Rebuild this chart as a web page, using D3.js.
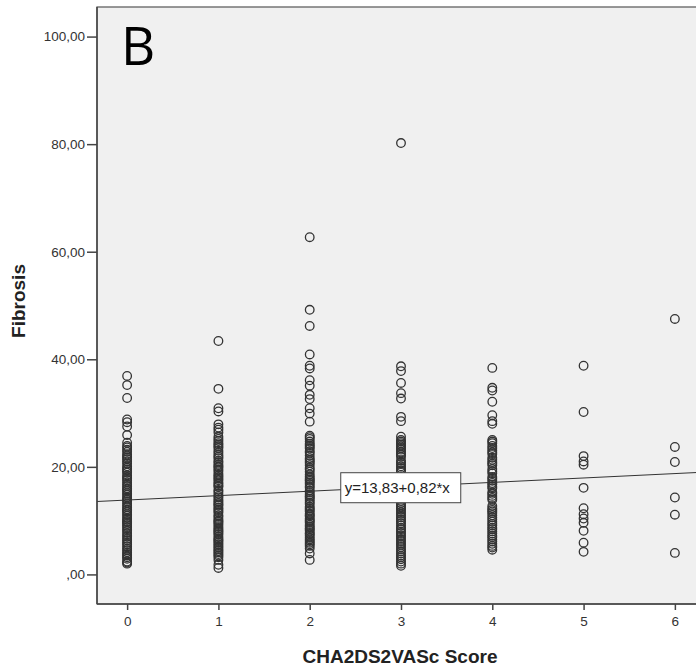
<!DOCTYPE html>
<html>
<head>
<meta charset="utf-8">
<script src="https://cdn.jsdelivr.net/npm/d3@7"></script>
<style>
  html, body { margin: 0; padding: 0; background: #fff; }
  svg { display: block; }
</style>
</head>
<body>
<svg id="chart" width="696" height="670"></svg>
<script>
// ---- Data ----
const scores = [0, 1, 2, 3, 4, 5, 6];
const fibrosisScore0 = [36.9, 35.2, 32.8, 28.8, 28.3, 27.5, 25.9, 24.5, 23.9, 23.6, 23.2, 22.8, 22.3, 22.0, 21.7, 21.4, 21.0, 20.6, 20.1, 19.8, 19.5, 19.2, 18.9, 18.4, 18.1, 17.8, 17.5, 17.1, 16.7, 16.4, 16.0, 15.8, 15.5, 15.1, 14.8, 14.4, 14.1, 13.9, 13.6, 13.2, 12.8, 12.5, 12.1, 11.9, 11.6, 11.2, 10.9, 10.5, 10.2, 9.9, 9.7, 9.4, 9.1, 8.8, 8.4, 8.1, 7.7, 7.3, 7.0, 6.6, 6.3, 5.9, 5.6, 5.2, 4.8, 4.5, 4.1, 3.8, 3.5, 3.2, 2.9, 2.4, 2.2, 2.0];
const fibrosisScore1 = [43.4, 34.5, 30.9, 30.3, 27.9, 27.3, 26.9, 26.4, 25.6, 25.2, 24.8, 24.4, 24.1, 23.8, 23.5, 23.0, 22.6, 22.2, 21.9, 21.6, 21.1, 20.8, 20.4, 20.1, 19.9, 19.5, 19.2, 18.7, 18.4, 18.1, 17.8, 17.5, 17.1, 16.8, 16.5, 16.3, 15.7, 15.4, 15.0, 14.6, 14.3, 13.9, 13.6, 13.3, 13.0, 12.8, 12.4, 12.1, 11.8, 11.5, 11.0, 10.7, 10.3, 10.0, 9.8, 9.5, 9.2, 8.8, 8.5, 8.2, 8.0, 7.7, 7.4, 7.0, 6.7, 6.4, 6.2, 5.9, 5.6, 5.3, 5.0, 4.7, 4.4, 4.1, 3.8, 3.5, 3.2, 2.7, 1.8, 1.2];
const fibrosisScore2 = [62.7, 49.2, 46.2, 40.9, 38.8, 38.3, 36.1, 35.1, 33.4, 32.6, 30.9, 29.9, 28.4, 25.8, 25.5, 25.2, 24.7, 24.3, 24.0, 23.7, 23.4, 22.9, 22.6, 22.1, 21.6, 21.3, 21.0, 20.7, 20.3, 19.8, 19.5, 19.1, 18.6, 18.2, 17.9, 17.6, 17.4, 17.1, 16.8, 16.4, 16.1, 15.6, 15.3, 14.9, 14.6, 14.4, 14.1, 13.8, 13.4, 13.1, 12.6, 12.3, 12.0, 11.7, 11.3, 11.0, 10.8, 10.4, 10.1, 9.9, 9.6, 9.2, 8.9, 8.6, 8.4, 8.1, 7.7, 7.5, 7.2, 6.8, 6.5, 6.2, 5.9, 5.6, 5.3, 4.8, 3.9, 2.7];
const fibrosisScore3 = [80.2, 38.7, 37.8, 35.6, 33.7, 32.7, 29.3, 28.5, 25.6, 25.0, 24.7, 24.4, 24.1, 23.8, 23.5, 23.2, 22.8, 22.5, 22.2, 21.9, 21.2, 20.8, 20.5, 20.1, 19.8, 19.4, 19.1, 17.6, 15.8, 14.2, 13.3, 12.9, 12.6, 12.3, 12.0, 11.6, 11.3, 10.9, 10.6, 10.2, 9.9, 9.5, 9.1, 8.7, 8.4, 8.0, 7.7, 7.3, 7.0, 6.6, 6.2, 5.8, 5.5, 5.1, 4.7, 4.3, 3.9, 3.5, 3.2, 2.8, 2.4, 2.0, 1.6];
const fibrosisScore4 = [38.4, 34.7, 34.2, 32.1, 29.6, 28.5, 28.0, 25.0, 24.7, 24.4, 23.9, 23.5, 23.1, 22.7, 22.4, 21.7, 21.3, 20.9, 20.6, 20.3, 19.6, 19.2, 18.8, 18.1, 17.8, 17.4, 17.0, 16.7, 16.3, 16.0, 15.3, 15.0, 14.6, 14.2, 13.9, 12.7, 12.3, 12.0, 11.7, 11.4, 11.0, 10.6, 10.2, 9.8, 9.4, 9.1, 8.7, 8.4, 8.0, 7.6, 7.2, 6.9, 6.5, 6.1, 5.7, 5.3, 5.0, 4.6];
const fibrosisScore5 = [38.8, 30.2, 22.0, 21.0, 20.4, 16.1, 12.3, 11.2, 10.4, 9.6, 8.1, 5.9, 4.2];
const fibrosisScore6 = [47.5, 23.7, 20.9, 14.3, 11.1, 4.0];
const fibrosisByScore = [fibrosisScore0, fibrosisScore1, fibrosisScore2, fibrosisScore3, fibrosisScore4, fibrosisScore5, fibrosisScore6];
const yTicks = [0, 20, 40, 60, 80, 100];
const regIntercept = 13.83;
const regSlope = 0.82;
const regLabel = "y=13,83+0,82*x";
const panelLetter = "B";
const xTitle = "CHA2DS2VASc Score";
const yTitle = "Fibrosis";

// ---- Layout ----
const svg = d3.select("#chart");
const mLeft = 97, mTop = 7, mBottom = 604, mRight = 705;
const x = d3.scaleLinear().domain([-0.33, 6.33]).range([mLeft, mRight]);
const y = d3.scaleLinear().domain([-5.5, 105.5]).range([mBottom, mTop]);
const points = [];
scores.forEach((s, i) => fibrosisByScore[i].forEach(v => points.push({s, v})));

// plot background/frame
svg.append("rect")
  .attr("x", mLeft).attr("y", mTop)
  .attr("width", mRight - mLeft).attr("height", mBottom - mTop)
  .attr("fill", "#f0f0f0").attr("stroke", "#555").attr("stroke-width", 1.2);

// regression line
const reg = d => regIntercept + regSlope * d;
const [x0, x1] = x.domain();
svg.append("line")
  .attr("x1", x(x0)).attr("y1", y(reg(x0)))
  .attr("x2", x(x1)).attr("y2", y(reg(x1)))
  .attr("stroke", "#333").attr("stroke-width", 1);

// points
svg.append("g").selectAll("circle").data(points).join("circle")
  .attr("cx", d => x(d.s)).attr("cy", d => y(d.v))
  .attr("r", 4.3)
  .attr("fill", "none").attr("stroke", "#333").attr("stroke-width", 1.3);

// regression label box
const lx = 2.34;
const lbl = svg.append("g").attr("transform", `translate(${x(lx)},${y(reg(lx)) - 17})`);
lbl.append("rect").attr("x", 0).attr("y", 0).attr("width", 120).attr("height", 30)
  .attr("fill", "#fff").attr("stroke", "#444").attr("stroke-width", 1);
lbl.append("text").attr("x", 4).attr("y", 20.5)
  .attr("font-family", "Arial, 'Liberation Sans', sans-serif").attr("font-size", 15)
  .attr("fill", "#222").text(regLabel);

// Y axis
const fmt = d => d === 0 ? ",00" : d.toFixed(2).replace(".", ",");
const yAxis = svg.append("g").attr("transform", `translate(${mLeft},0)`)
  .call(d3.axisLeft(y).tickValues(yTicks).tickFormat(fmt).tickSize(10).tickPadding(2));
yAxis.select(".domain").remove();
yAxis.selectAll(".tick line").attr("stroke", "#444").attr("stroke-width", 1.5);
yAxis.selectAll(".tick text")
  .attr("font-family", "Arial, 'Liberation Sans', sans-serif").attr("font-size", 13.5)
  .attr("fill", "#333");

// X axis
const xAxis = svg.append("g").attr("transform", `translate(0,${mBottom})`)
  .call(d3.axisBottom(x).tickValues(scores).tickFormat(d3.format("d")).tickSize(6).tickPadding(6));
xAxis.select(".domain").remove();
xAxis.selectAll(".tick line").attr("stroke", "#444").attr("stroke-width", 1.5);
xAxis.selectAll(".tick text")
  .attr("font-family", "Arial, 'Liberation Sans', sans-serif").attr("font-size", 13.5)
  .attr("fill", "#333");

// left and bottom frame lines darker
svg.append("line").attr("x1", mLeft).attr("x2", mLeft).attr("y1", mTop).attr("y2", mBottom)
  .attr("stroke", "#444").attr("stroke-width", 1.5);
svg.append("line").attr("x1", mLeft).attr("x2", mRight).attr("y1", mBottom).attr("y2", mBottom)
  .attr("stroke", "#444").attr("stroke-width", 1.5);

// titles
svg.append("text").attr("x", 400).attr("y", 663)
  .attr("text-anchor", "middle")
  .attr("font-family", "Arial, 'Liberation Sans', sans-serif").attr("font-weight", "bold")
  .attr("font-size", 19).attr("fill", "#222").text(xTitle);
svg.append("text").attr("transform", `translate(25,301) rotate(-90)`)
  .attr("text-anchor", "middle")
  .attr("font-family", "Arial, 'Liberation Sans', sans-serif").attr("font-weight", "bold")
  .attr("font-size", 19).attr("fill", "#222").text(yTitle);

// panel letter
svg.append("text").attr("x", 121).attr("y", 65)
  .attr("font-family", "'Open Sans', 'Noto Sans', sans-serif")
  .attr("font-size", 53).attr("fill", "#000").text(panelLetter);
</script>
</body>
</html>
